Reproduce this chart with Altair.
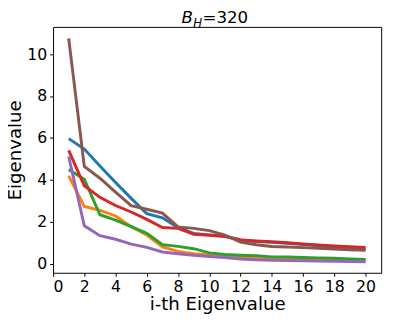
import altair as alt
import pandas as pd

idx = list(range(1, 21))
series_names = ["s1", "s2", "s3", "s4", "s5", "s6"]
colors = ["#1f77b4", "#ff7f0e", "#2ca02c", "#d62728", "#9467bd", "#8c564b"]

blue = [5.97, 5.47, 4.66, 3.88, 3.12, 2.39, 2.19, 1.72, 1.45, 1.38, 1.32, 1.14, 1.06, 1.02, 0.98, 0.92, 0.86, 0.80, 0.76, 0.72]
orange = [4.19, 2.73, 2.55, 2.28, 1.77, 1.37, 0.80, 0.59, 0.48, 0.42, 0.36, 0.32, 0.29, 0.26, 0.24, 0.22, 0.20, 0.18, 0.16, 0.14]
green = [4.50, 4.03, 2.34, 2.08, 1.77, 1.45, 0.91, 0.83, 0.72, 0.52, 0.44, 0.41, 0.39, 0.33, 0.32, 0.30, 0.28, 0.26, 0.23, 0.20]
red = [5.41, 3.72, 3.17, 2.78, 2.47, 2.12, 1.73, 1.69, 1.41, 1.36, 1.30, 1.14, 1.09, 1.05, 1.00, 0.95, 0.90, 0.85, 0.81, 0.78]
purple = [5.12, 1.81, 1.34, 1.17, 0.94, 0.78, 0.56, 0.48, 0.41, 0.35, 0.30, 0.23, 0.19, 0.17, 0.15, 0.14, 0.13, 0.12, 0.11, 0.10]
brown = [10.75, 4.64, 4.08, 3.42, 2.77, 2.60, 2.42, 1.76, 1.69, 1.58, 1.37, 1.03, 0.91, 0.82, 0.80, 0.77, 0.74, 0.70, 0.67, 0.64]

all_series = [blue, orange, green, red, purple, brown]

rows = []
for name, vals in zip(series_names, all_series):
    for i, v in zip(idx, vals):
        rows.append({"i": i, "v": v, "s": name})
df = pd.DataFrame(rows)

FONT = "DejaVu Sans"

lines = alt.Chart(df).mark_line(strokeWidth=3, clip=True).encode(
    x=alt.X("i:Q", scale=alt.Scale(domain=[0, 21], nice=False, zero=False),
            axis=alt.Axis(values=list(range(0, 21, 2)), title="i-th Eigenvalue",
                          titlePadding=0)),
    y=alt.Y("v:Q", scale=alt.Scale(domain=[-0.43, 11.3], nice=False, zero=False),
            axis=alt.Axis(values=list(range(0, 11, 2)), title="Eigenvalue",
                          titlePadding=2)),
    color=alt.Color("s:N", scale=alt.Scale(domain=series_names, range=colors), legend=None),
    detail="s:N",
)

one = pd.DataFrame({"k": [0]})
t_b = alt.Chart(one).mark_text(text="B", font=FONT, fontSize=17, fontStyle="italic",
                               align="left", baseline="alphabetic", color="black").encode(
    x=alt.value(131), y=alt.value(-4))
t_h = alt.Chart(one).mark_text(text="H", font=FONT, fontSize=12, fontStyle="italic",
                               align="left", baseline="alphabetic", color="black").encode(
    x=alt.value(143), y=alt.value(0))
t_rest = alt.Chart(one).mark_text(text="=320", font=FONT, fontSize=17,
                                  align="left", baseline="alphabetic", color="black").encode(
    x=alt.value(152.5), y=alt.value(-4))

chart = alt.layer(lines, t_b, t_h, t_rest).properties(
    width=335, height=251,
    autosize="none",
    padding={"left": 46, "top": 16, "right": 10, "bottom": 50},
).configure_view(
    stroke="black", strokeWidth=1
).configure_axis(
    grid=False, domain=False,
    labelFont=FONT, labelFontSize=16, labelColor="black",
    titleFont=FONT, titleFontSize=18.5, titleColor="black", titleFontWeight="normal",
    tickColor="black", tickSize=3.5, tickWidth=1, labelPadding=3,
)

chart.save("out.html", embed_options={"renderer": "svg", "actions": False})
